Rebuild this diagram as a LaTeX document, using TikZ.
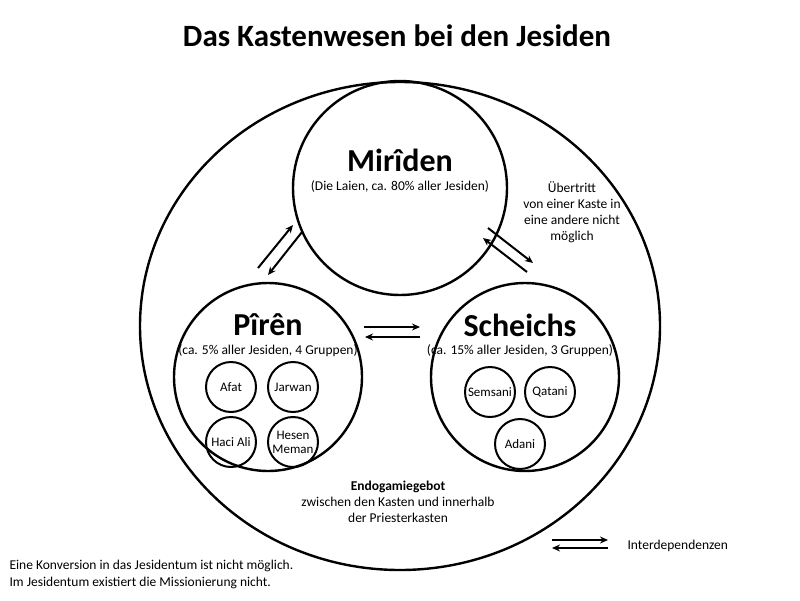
\documentclass[tikz,border=0pt]{standalone}
\usepackage{fontspec}
\setmainfont{Carlito}
\usetikzlibrary{arrows.meta}
\begin{document}
\begin{tikzpicture}[x=1pt,y=-1pt,
  ring/.style={draw,line width=2.4pt,circle},
  small/.style={draw,line width=2pt,circle,minimum size=50pt,inner sep=0pt,align=center,font=\fontsize{13}{14}\selectfont},
  arr/.style={-{Stealth[length=8pt,width=7pt]},line width=2pt},
  txt/.style={align=center,font=\fontsize{13.5}{16}\selectfont}]
\useasboundingbox (0,0) rectangle (800,600);
\node[font=\bfseries\fontsize{31}{34}\selectfont] (title) at (397,36) {Das Kastenwesen bei den Jesiden};
\draw[line width=2.4pt] (400,326) ellipse [x radius=260, y radius=244];
\node[ring,minimum size=214pt] (M) at (400,188) {};
\node[ring,minimum size=188pt] (P) at (268,377) {};
\node[ring,minimum size=188pt] (S) at (525,377) {};
\node[font=\bfseries\fontsize{32}{36}\selectfont] (Mt) at (400,160) {Mirîden};
\node[txt] (Ms) at (400,186) {(Die Laien, ca. 80\% aller Jesiden)};
\node[font=\bfseries\fontsize{32}{36}\selectfont] (Pt) at (268,325) {Pîrên};
\node[txt] (Ps) at (268,351) {(ca. 5\% aller Jesiden, 4 Gruppen)};
\node[font=\bfseries\fontsize{32}{36}\selectfont] (St) at (520,325) {Scheichs};
\node[txt] (Ss) at (520,351) {(ca. 15\% aller Jesiden, 3 Gruppen)};
\node[small] (a1) at (231,387) {Afat};
\node[small] (a2) at (293,387) {Jarwan};
\node[small] (a3) at (231,442) {Haci Ali};
\node[small] (a4) at (293,442) {Hesen\\Meman};
\node[small] (b1) at (490,392) {Semsani};
\node[small] (b2) at (550,392) {Qatani};
\node[small] (b3) at (520,444) {Adani};
\node[txt] (ueb) at (572,212) {Übertritt\\von einer Kaste in\\eine andere nicht\\möglich};
\node[txt] (endo) at (398,502) {\textbf{Endogamiegebot}\\zwischen den Kasten und innerhalb\\der Priesterkasten};
\coordinate (p1) at (258,268); \coordinate (p2) at (293,225);
\coordinate (p3) at (302,232); \coordinate (p4) at (268,275);
\draw[arr] (p1) -- (p2); \draw[arr] (p3) -- (p4);
\coordinate (q1) at (488,228); \coordinate (q2) at (533,263);
\coordinate (q3) at (527,272); \coordinate (q4) at (483,238);
\draw[arr] (q1) -- (q2); \draw[arr] (q3) -- (q4);
\coordinate (h1) at (364,327); \coordinate (h2) at (420,327);
\coordinate (h3) at (420,337); \coordinate (h4) at (365,337);
\draw[arr] (h1) -- (h2); \draw[arr] (h3) -- (h4);
\coordinate (l1) at (552,540); \coordinate (l2) at (608,540);
\coordinate (l3) at (608,548); \coordinate (l4) at (552,548);
\draw[arr] (l1) -- (l2); \draw[arr] (l3) -- (l4);
\node[txt,anchor=west] (leg) at (624,546) {Interdependenzen};
\node[anchor=west,align=left,font=\fontsize{13.5}{17}\selectfont] (foot) at (6,574) {Eine Konversion in das Jesidentum ist nicht möglich.\\Im Jesidentum existiert die Missionierung nicht.};
\end{tikzpicture}
\end{document}
